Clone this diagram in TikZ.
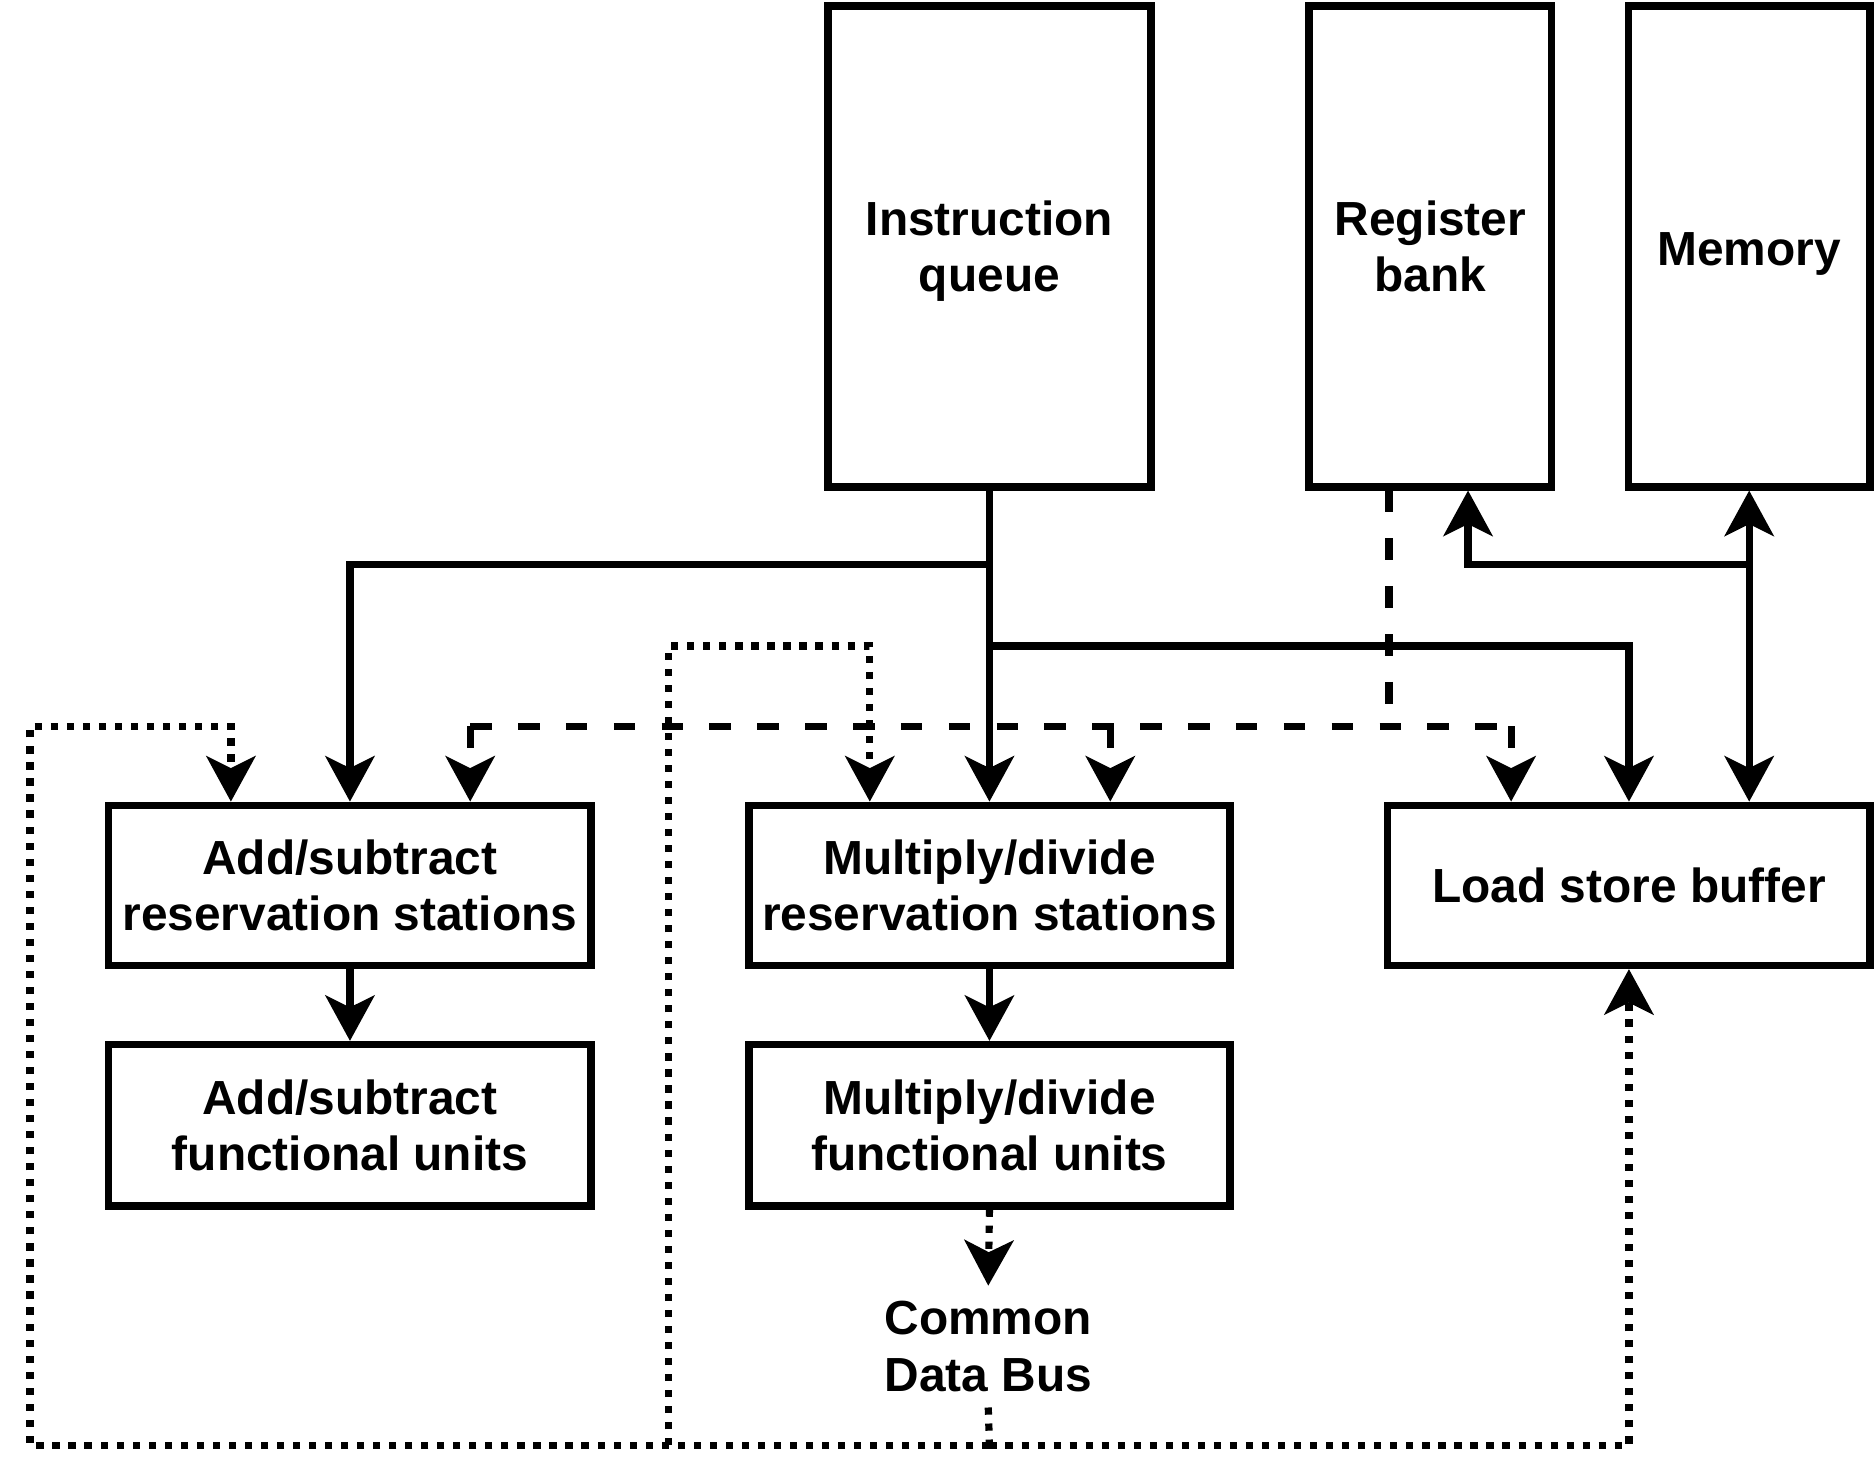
\documentclass[tikz,border=0pt]{standalone}
\usepackage{fontspec}
\setmainfont{Liberation Sans}
\usetikzlibrary{arrows.meta}
\tikzset{
  box/.style={draw, line width=3pt, rectangle, inner sep=0pt, align=center,
    font=\bfseries\fontsize{20pt}{23.5pt}\selectfont},
  lbl/.style={inner sep=0pt, align=center, font=\bfseries\fontsize{20pt}{23.5pt}\selectfont},
  conn/.style={line width=3pt, -{Stealth[length=19pt,width=20.5pt,inset=5pt]}},
  biconn/.style={line width=3pt, {Stealth[length=19pt,width=20.5pt,inset=5pt]}-{Stealth[length=19pt,width=20.5pt,inset=5pt]}},
  dashline/.style={line width=3pt, dash pattern=on 9pt off 11pt},
  dotline/.style={line width=3pt, dash pattern=on 3pt off 3.7pt}
}
\begin{document}
\begin{tikzpicture}[x=0.5pt,y=-0.5pt]
\useasboundingbox (0,0) rectangle (1568,1237);
% boxes
\node[box, minimum width=135pt, minimum height=201pt] (iq) at (827,206)
  {\raisebox{-2.5pt}[\height][\depth]{\begin{tabular}{@{}c@{}}Instruction\\queue\end{tabular}}};
\node[box, minimum width=101.5pt, minimum height=201pt] (rb) at (1195.5,206) {Register\\bank};
\node[box, minimum width=101pt, minimum height=201pt] (mem) at (1462,206)
  {\raisebox{-3pt}[\height][\depth]{Memory}};
\node[box, minimum width=201.5pt, minimum height=67pt] (ars) at (292.5,740) {Add/subtract\\reservation stations};
\node[box, minimum width=201.5pt, minimum height=67.5pt] (afu) at (292.5,940.5) {Add/subtract\\functional units};
\node[box, minimum width=201pt, minimum height=67pt] (mrs) at (827,740) {Multiply/divide\\reservation stations};
\node[box, minimum width=201pt, minimum height=67.5pt] (mfu) at (827,940.5) {Multiply/divide\\functional units};
\node[box, minimum width=201.5pt, minimum height=67pt] (lsb) at (1361.5,740) {Load store buffer};
\node[lbl, minimum height=50.5pt] (cdb) at (826,1125.5) {Common\\Data Bus};
% junction coordinates
\coordinate (j1) at (827,472);
\coordinate (j2) at (827,540);
\coordinate (j3) at (1462,472);
\coordinate (d0) at (1161,607);
\coordinate (bus) at (827,1208);
\coordinate (bm) at (559,1208);
% solid connectors
\draw[conn] (iq.south) -- (mrs.north);
\draw[conn] (j1) -| (ars.north);
\draw[conn] (j2) -| (lsb.north);
\draw[conn] (ars.south) -- (afu.north);
\draw[conn] (mrs.south) -- (mfu.north);
\draw[biconn] (mem.south) -- (mem.south |- lsb.north);
\draw[conn] (j3) -| ([xshift=15.75pt]rb.south);
% dashed connectors
\draw[dashline] ([xshift=-17.25pt]rb.south) -- (d0);
\draw[dashline] (393,607) -- (1263,607);
\draw[dashline, conn] (393,607) -- ([xshift=50.25pt]ars.north);
\draw[dashline, conn] (928,607) -- ([xshift=50.5pt]mrs.north);
\draw[dashline, conn] (1263,607) -- ([xshift=-49.25pt]lsb.north);
% dotted connectors
\draw[dotline, conn] (mfu.south) -- (cdb.north);
\draw[dotline] (cdb.south) -- (bus);
\draw[dotline, conn] (bus) -| (lsb.south);
\draw[dotline, conn] (bus) -- (25,1208) -- (25,607) -| ([xshift=-49.75pt]ars.north);
\draw[dotline, conn] (bm) -- (559,540) -| ([xshift=-50pt]mrs.north);
\end{tikzpicture}
\end{document}
